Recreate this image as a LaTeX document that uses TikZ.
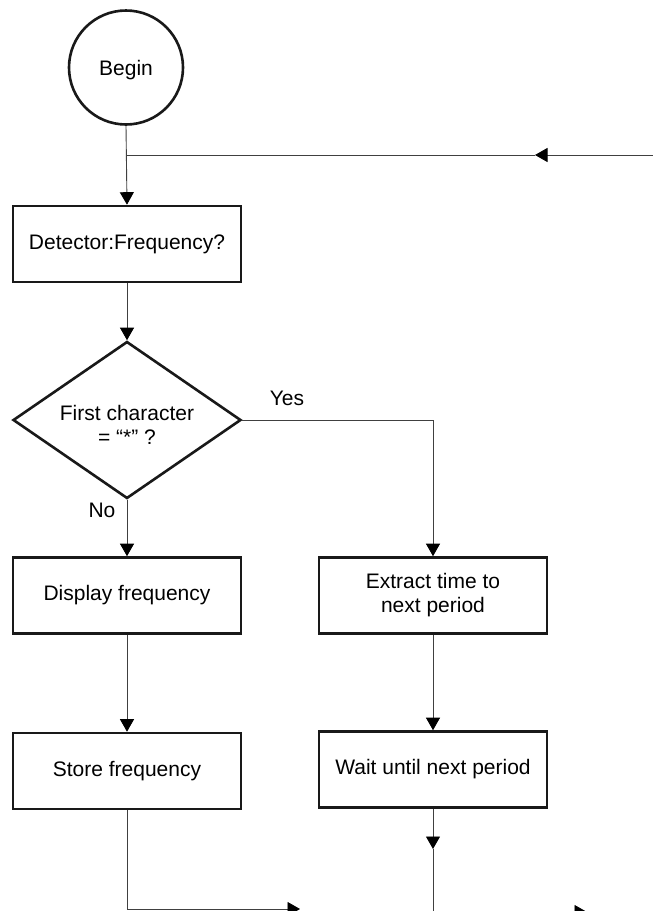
\documentclass[tikz,border=0pt]{standalone}
\usepackage{fontspec}
\setmainfont{Liberation Sans}
\usetikzlibrary{shapes.geometric,arrows.meta}
\begin{document}
\begin{tikzpicture}[x=1pt,y=-1pt,
  every node/.style={font=\fontsize{21}{24}\selectfont},
  shapebox/.style={draw=black!90,line width=2.6pt,rectangle,minimum width=228pt,minimum height=76pt,inner sep=0pt,align=center},
  conn/.style={draw=black!75,line width=0.9pt},
  arr/.style={conn,-{Triangle[length=12.5pt,width=14pt,color=black]}},
  lbl/.style={inner sep=0pt}]
\useasboundingbox (0,0) rectangle (653,911);
% nodes
\node[circle,draw=black!90,line width=2.6pt,minimum size=114pt,inner sep=0pt] (begin) at (126,67.5) {};
\node[lbl] (begintext) at (126,70) {Begin};
\node[shapebox] (det) at (127,244) {Detector:Frequency?};
\node[diamond,draw=black!90,line width=2.6pt,minimum width=228pt,minimum height=157pt,inner sep=0pt] (dia) at (127,420) {};
\node[lbl,align=center] (diatext) at (127,425) {First character\\= “*” ?};
\node[shapebox] (disp) at (127,595.5) {Display frequency};
\node[shapebox] (ext) at (433,595.5) {Extract time to\\next period};
\node[shapebox] (store) at (127,771) {Store frequency};
\node[shapebox] (wait) at (433,769.5) {Wait until next period};
\node[lbl] (yes) at (287,398) {Yes};
\node[lbl] (no) at (102,510) {No};
% coordinates
\coordinate (j1) at (126,155);
\coordinate (ret) at (660,155);
\coordinate (topar) at (535,155);
\coordinate (midarr) at (433,849);
\coordinate (brj) at (433,912);
\coordinate (bl) at (300,909);
\coordinate (br) at (587,912);
% connectors
\draw[arr] (begin.south) -- (det.north);
\draw[arr] (ret) -- (topar);
\draw[conn] (topar) -- (j1);
\draw[arr] (det.south) -- (dia.north);
\draw[arr] (dia.east) -| (ext.north);
\draw[arr] (dia.south) -- (disp.north);
\draw[arr] (disp.south) -- (store.north);
\draw[arr] (ext.south) -- (wait.north);
\draw[arr] (wait.south) -- (midarr);
\draw[conn] (midarr) -- (brj);
\draw[arr] (store.south) |- (bl);
\draw[arr] (brj) -- (br);
\end{tikzpicture}
\end{document}
